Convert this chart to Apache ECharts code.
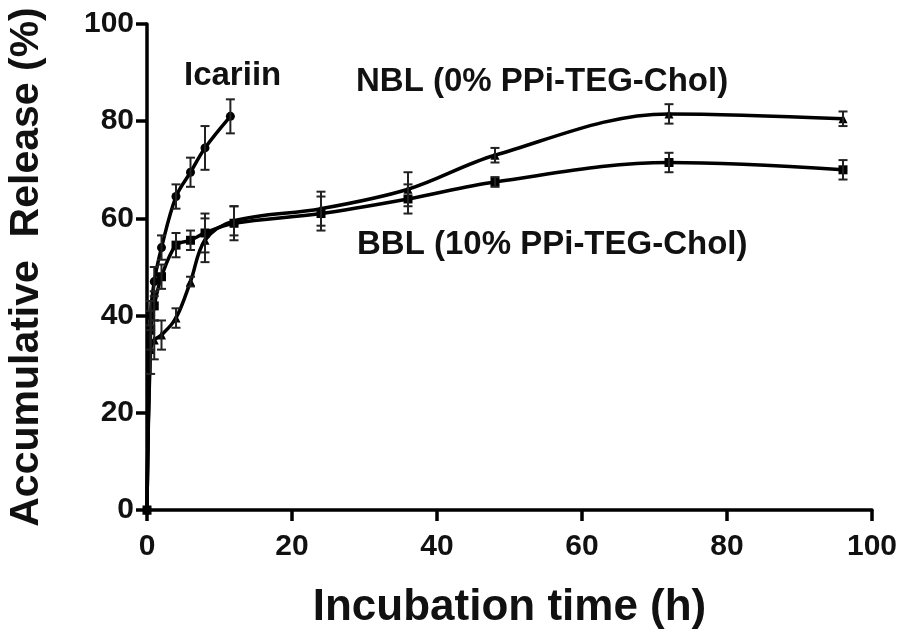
<!DOCTYPE html>
<html>
<head>
<meta charset="utf-8">
<script src="https://cdn.jsdelivr.net/npm/echarts@6/dist/echarts.min.js"></script>
<style>
html,body{margin:0;padding:0;background:#fff;}
#chart{width:898px;height:636px;}
</style>
</head>
<body>
<div id="chart"></div>
<script>
// ---- data ----
var xTicks = [0, 20, 40, 60, 80, 100];
var yTicks = [0, 20, 40, 60, 80, 100];

var icariinTime = [0, 0.5, 1, 2, 4, 6, 8, 11.5];
var icariinVal  = [0, 40, 47, 54, 64.5, 69.5, 74.5, 81];
var icariinErr  = [0, 3, 3, 2.5, 2.5, 3, 4.5, 3.5];

var nblTime = [0, 0.5, 1, 2, 4, 6, 8, 12, 24, 36, 48, 72, 96];
var nblVal  = [0, 33, 35, 36, 39.5, 47, 55.5, 59.5, 62, 66, 73, 81.5, 80.5];
var nblErr  = [0, 5, 4, 3, 2, 1, 4.5, 3, 3.5, 3.5, 1.5, 2, 1.5];

var bblTime = [0, 0.5, 1, 2, 4, 6, 8, 12, 24, 36, 48, 72, 96];
var bblVal  = [0, 37, 42, 48, 54.5, 55.5, 57, 59, 61, 64, 67.5, 71.5, 70];
var bblErr  = [0, 4, 3, 2.5, 2.5, 2, 4, 3.5, 3.5, 3, 1, 2, 2];

var labelIcariin = 'Icariin';
var labelNBL = 'NBL (0% PPi-TEG-Chol)';
var labelBBL = 'BBL (10% PPi-TEG-Chol)';

function pairs(t, v) { return t.map(function (x, i) { return [x, v[i]]; }); }
function errData(t, v, e) { return t.map(function (x, i) { return [x, v[i] - e[i], v[i] + e[i]]; }); }

function errRender(params, api) {
  var x = api.value(0), lo = api.value(1), hi = api.value(2);
  if (hi - lo <= 0) return null;
  var p1 = api.coord([x, lo]), p2 = api.coord([x, hi]);
  var w = 4.5;
  var st = { stroke: '#222', lineWidth: 2 };
  return {
    type: 'group',
    children: [
      { type: 'line', shape: { x1: p1[0], y1: p1[1], x2: p2[0], y2: p2[1] }, style: st },
      { type: 'line', shape: { x1: p1[0] - w, y1: p1[1], x2: p1[0] + w, y2: p1[1] }, style: st },
      { type: 'line', shape: { x1: p2[0] - w, y1: p2[1], x2: p2[0] + w, y2: p2[1] }, style: st }
    ]
  };
}

var FONT = '"Liberation Sans", Arial, sans-serif';
var chart = echarts.init(document.getElementById('chart'));

function lineSeries(name, t, v, sym) {
  return {
    name: name, type: 'line', data: pairs(t, v), smooth: 0.35,
    symbol: sym, symbolSize: 9, showSymbol: true,
    lineStyle: { color: '#000', width: 3.5 },
    itemStyle: { color: '#000' },
    z: 3
  };
}
function errSeries(t, v, e) {
  return { type: 'custom', renderItem: errRender, data: errData(t, v, e), encode: { x: 0, y: [1, 2] }, z: 4 };
}

chart.setOption({
  animation: false,
  backgroundColor: '#fff',
  grid: { left: 147, top: 24, width: 725, height: 486, containLabel: false, outerBoundsMode: 'none' },
  xAxis: {
    type: 'value', min: 0, max: 100, interval: 20,
    name: 'Incubation time (h)', nameLocation: 'middle', nameGap: 76,
    nameTextStyle: { fontFamily: FONT, fontWeight: 'bold', fontSize: 44, color: '#111' },
    axisLine: { lineStyle: { color: '#000', width: 3.5 } },
    axisTick: { show: true, length: 11, lineStyle: { color: '#000', width: 3.5 } },
    axisLabel: { margin: 22, fontFamily: FONT, fontWeight: 'bold', fontSize: 30, color: '#111',
      formatter: function (v) { return xTicks.indexOf(v) >= 0 ? String(v) : ''; } },
    splitLine: { show: false }
  },
  yAxis: {
    type: 'value', min: 0, max: 100, interval: 20,
    name: 'Accumulative  Release (%)', nameLocation: 'middle', nameGap: 100, nameRotate: 90,
    nameTextStyle: { fontFamily: FONT, fontWeight: 'bold', fontSize: 41, color: '#111' },
    axisLine: { lineStyle: { color: '#000', width: 3.5 } },
    axisTick: { show: true, length: 11, lineStyle: { color: '#000', width: 3.5 } },
    axisLabel: { margin: 13, fontFamily: FONT, fontWeight: 'bold', fontSize: 30, color: '#111',
      formatter: function (v) { return yTicks.indexOf(v) >= 0 ? String(v) : ''; } },
    splitLine: { show: false }
  },
  series: [
    lineSeries(labelIcariin, icariinTime, icariinVal, 'circle'),
    lineSeries(labelNBL, nblTime, nblVal, 'triangle'),
    lineSeries(labelBBL, bblTime, bblVal, 'rect'),
    errSeries(icariinTime, icariinVal, icariinErr),
    errSeries(nblTime, nblVal, nblErr),
    errSeries(bblTime, bblVal, bblErr)
  ],
  graphic: [
    { type: 'text', left: 184, top: 59, style: { text: labelIcariin, font: 'bold 33px ' + FONT, fill: '#111' } },
    { type: 'text', left: 356, top: 65, style: { text: labelNBL, font: 'bold 33px ' + FONT, fill: '#111' } },
    { type: 'text', left: 357, top: 228, style: { text: labelBBL, font: 'bold 33px ' + FONT, fill: '#111' } }
  ]
});
</script>
</body>
</html>
